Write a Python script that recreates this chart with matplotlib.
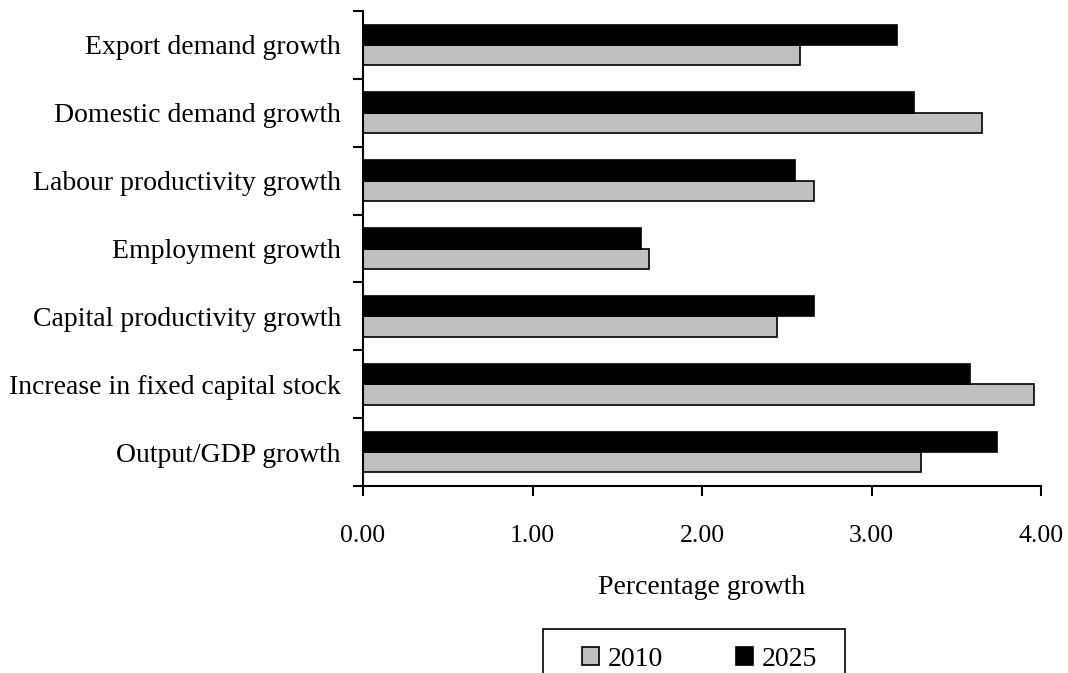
import numpy as np
import matplotlib
matplotlib.use('Agg')
import matplotlib.pyplot as plt
import matplotlib as mpl
from matplotlib.patches import Rectangle

mpl.rc('font', family=['Liberation Serif', 'DejaVu Serif'], size=20)

categories = ['Output/GDP growth', 'Increase in fixed capital stock',
              'Capital productivity growth', 'Employment growth',
              'Labour productivity growth', 'Domestic demand growth',
              'Export demand growth']
vals_2010 = [3.29, 3.96, 2.44, 1.69, 2.66, 3.65, 2.58]
vals_2025 = [3.74, 3.58, 2.66, 1.64, 2.55, 3.25, 3.15]
xticks = [0, 1, 2, 3, 4]

W, H = 1068, 673
fig = plt.figure(figsize=(W/100, H/100), dpi=100)
ax = fig.add_axes([363/W, 1 - 486/H, 678/W, 475/H])

y = np.arange(len(categories))
h = 0.30
ax.barh(y - h/2, vals_2010, height=h, color='#c0c0c0', edgecolor='black',
        linewidth=1.2, label='2010')
ax.barh(y + h/2, vals_2025, height=h, color='black', edgecolor='black',
        linewidth=1.2, label='2025')

ax.set_xlim(0, 4)
ax.set_ylim(-0.5, len(categories) - 0.5)
ax.set_xticks(xticks)
ax.set_xticklabels(['%.2f' % v for v in xticks], fontsize=18.5)
ax.set_yticks(y)
ax.set_yticklabels(categories)
ax.set_yticks(np.arange(len(categories) + 1) - 0.5, minor=True)

ax.tick_params(axis='y', which='major', length=0, pad=16)
ax.tick_params(axis='y', which='minor', length=7, width=1.5, direction='out')
ax.tick_params(axis='x', length=7, width=1.5, direction='out', pad=21)

for s in ['top', 'right']:
    ax.spines[s].set_visible(False)
for s in ['left', 'bottom']:
    ax.spines[s].set_linewidth(1.5)

ax.set_xlabel('Percentage growth', labelpad=20)

# legend box (cut off at the bottom edge like the original)
fig.patches.append(Rectangle((543/W, -0.05), 302/W, 0.05 + 1 - 629/H,
                             transform=fig.transFigure, fill=False,
                             edgecolor='black', linewidth=1.2))
handles, labels = ax.get_legend_handles_labels()
leg = fig.legend(handles, labels, loc='upper left', ncol=2,
                 bbox_to_anchor=(582/W, 1 - 647/H), frameon=False,
                 handlelength=0.62, handleheight=0.62, columnspacing=2.6,
                 handletextpad=0.32, borderpad=0, borderaxespad=0)

fig.savefig('out.png', dpi=100)
